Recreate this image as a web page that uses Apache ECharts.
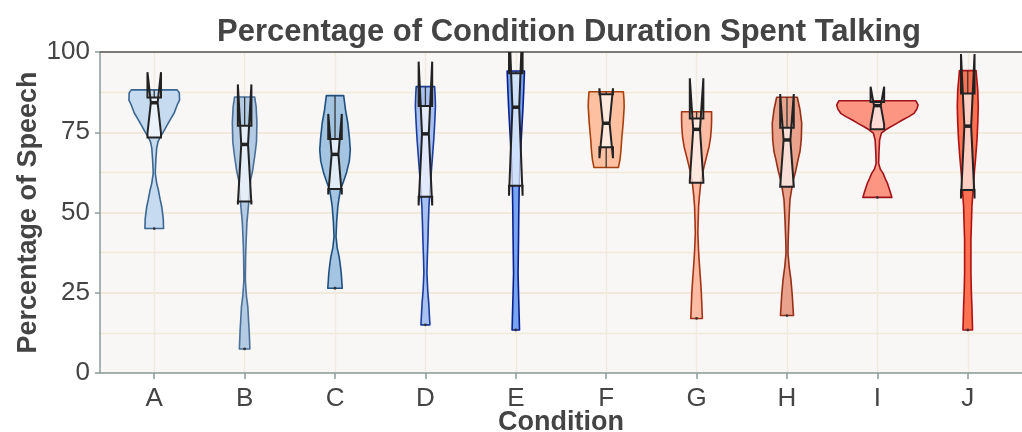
<!DOCTYPE html>
<html><head><meta charset="utf-8">
<script src="https://cdn.jsdelivr.net/npm/echarts@6/dist/echarts.min.js"></script>
<style>html,body{margin:0;padding:0;background:#fff}#c{width:1022px;height:432px}</style>
</head><body><div id="c"></div>
<script>
// ---- data ----
const categories = ['A','B','C','D','E','F','G','H','I','J'];
const yTicks = [0, 25, 50, 75, 100];
const q1          = [73.4, 53.4, 57.3, 54.9, 58.3, 70.3, 59.3, 58.0, 75.9, 57.0];
const median      = [84.2, 71.2, 68.1, 74.5, 82.8, 77.8, 75.9, 72.6, 83.3, 76.9];
const q3          = [85.8, 77.0, 72.9, 83.2, 93.4, 86.8, 79.3, 76.4, 84.4, 87.1];
const notchLow    = [74.7, 52.5, 55.6, 52.2, 55.2, 66.9, 60.0, 58.3, 77.4, 54.4];
const notchHigh   = [93.7, 89.9, 80.7, 97.0, 110.4, 88.7, 91.8, 86.9, 89.2, 99.4];
const whiskerLow  = [73.4, 53.4, 57.3, 54.9, 58.3, 64.0, 59.3, 58.0, 75.9, 57.0];
const whiskerHigh = [88.2, 86.0, 86.4, 89.2, 94.1, 87.6, 81.4, 85.9, 84.8, 94.2];
const outliers    = [[45.0],[7.5],[26.4],[15.0],[13.4],[],[17.0],[17.9],[54.7],[13.4]];

// violin density profiles: [value, half-width as fraction of category step]
const violinA = [[88.2,.254],[87.3,.277],[85,.280],[83.5,.254],[81,.221],[79.3,.185],[77,.138],[75.2,.103],[73.5,.066],[72,.041],[70,.027],[66,.017],[62.3,.011],[59,.028],[57,.046],[54,.066],[51.8,.083],[48,.100],[45,.103]];
const violinB = [[86,.111],[83,.127],[78,.136],[72,.131],[67.4,.111],[63,.088],[60.1,.066],[53.9,.048],[46.7,.025],[40,.015],[36.2,.011],[29,.008],[24,.020],[20.7,.035],[16,.044],[13.4,.050],[7.5,.058]];
const violinC = [[86.4,.096],[82,.116],[77.8,.142],[73,.160],[69.5,.169],[66,.158],[62.2,.125],[59.5,.092],[57,.059],[54,.042],[51.8,.031],[47,.018],[42.5,.011],[39,.024],[36.2,.046],[33.5,.059],[31,.069],[26.4,.080]];
const violinD = [[89.2,.102],[86,.108],[83,.111],[78,.103],[72.6,.092],[67,.077],[62.2,.064],[57,.051],[51.8,.039],[46,.032],[41.4,.028],[36,.021],[31.1,.017],[26,.025],[21.7,.037],[18,.044],[15,.050]];
const violinE = [[94.1,.096],[88.2,.088],[83,.080],[77.8,.070],[72,.059],[67.4,.050],[62,.042],[57,.037],[50,.033],[41.4,.030],[31,.025],[24,.031],[18,.037],[13.4,.041]];
const violinF = [[87.6,.190],[85,.197],[83,.199],[78,.188],[72.6,.171],[69,.162],[66.4,.152],[64,.135]];
const violinG = [[81.4,.166],[79,.166],[76.7,.164],[73.5,.155],[70.5,.138],[67.5,.111],[64.3,.083],[61.5,.061],[59.1,.046],[55,.031],[51.8,.022],[47,.017],[43.5,.014],[38,.022],[33.1,.033],[28,.046],[24.8,.053],[17,.064]];
const violinH = [[85.9,.114],[82,.144],[77.8,.163],[72.6,.158],[69,.144],[66.4,.122],[63,.097],[60.1,.070],[57,.050],[53.9,.033],[49,.024],[45.6,.019],[41,.013],[37.3,.011],[33,.025],[29,.044],[24,.059],[17.9,.072]];
const violinI = [[84.8,.426],[83.5,.450],[82.2,.437],[80.9,.406],[79.8,.343],[78.8,.277],[77.7,.210],[76.7,.147],[75.7,.088],[74.7,.044],[72.6,.025],[68.4,.017],[65.3,.014],[63.5,.033],[62.2,.063],[60.5,.088],[59.1,.111],[56,.147],[54.7,.160]];
const violinJ = [[94.2,.092],[88,.111],[83,.116],[78,.111],[72.6,.102],[67,.087],[62.2,.072],[57,.059],[51.8,.046],[46,.040],[41.4,.035],[31,.035],[25,.040],[20.7,.046],[13.4,.053]];
const violins = [violinA,violinB,violinC,violinD,violinE,violinF,violinG,violinH,violinI,violinJ];

// ---- styles ----
const violinFill   = ['#c6dbef','#b4cbe4','#a3c5e2','#a9c1f0','#77a5f1','#fdc1a2','#fcbca3','#e9a38c','#fc9683','#fb7253'];
const violinStroke = ['#3b6691','#4a6f99','#1f4f7f','#1a3c9e','#0a1f8f','#a8400c','#a53315','#952f18','#a0121a','#b01010'];
const BOX_HW = 0.075, NOTCH = 0.5;
const FONT = '"Liberation Sans", Arial, sans-serif';

function renderItem(params, api) {
  const i = api.value(0);
  const prof = violins[i];
  const vp = [];
  for (const [v, w] of prof) vp.push(api.coord([i + w, v]));
  for (let k = prof.length - 1; k >= 0; k--) vp.push(api.coord([i - prof[k][1], prof[k][0]]));
  const children = [];
  children.push({type:'polygon', shape:{points:vp}, style:{fill:violinFill[i], stroke:violinStroke[i], lineWidth:1.6, lineJoin:'round'}});
  const c = (x, y) => api.coord([x, y]);
  if (whiskerHigh[i] > q3[i]) {
    const a = c(i, q3[i]), b = c(i, whiskerHigh[i]);
    children.push({type:'line', shape:{x1:a[0],y1:a[1],x2:b[0],y2:b[1]}, style:{stroke:'#333', lineWidth:1.3}});
  }
  if (whiskerLow[i] < q1[i]) {
    const a = c(i, q1[i]), b = c(i, whiskerLow[i]);
    children.push({type:'line', shape:{x1:a[0],y1:a[1],x2:b[0],y2:b[1]}, style:{stroke:'#333', lineWidth:1.3}});
  }
  const bw = BOX_HW, nw = BOX_HW * NOTCH;
  const bp = [
    c(i-bw, q1[i]), c(i-bw, notchLow[i]), c(i-bw+nw, median[i]), c(i-bw, notchHigh[i]), c(i-bw, q3[i]),
    c(i+bw, q3[i]), c(i+bw, notchHigh[i]), c(i+bw-nw, median[i]), c(i+bw, notchLow[i]), c(i+bw, q1[i])
  ];
  children.push({type:'polygon', shape:{points:bp}, style:{fill:'rgba(255,255,255,0.65)', stroke:'#222', lineWidth:2}});
  const m1 = c(i-bw+nw, median[i]), m2 = c(i+bw-nw, median[i]);
  children.push({type:'line', shape:{x1:m1[0],y1:m1[1],x2:m2[0],y2:m2[1]}, style:{stroke:'#222', lineWidth:3.5}});
  for (const o of outliers[i]) {
    const p = c(i, o);
    children.push({type:'circle', shape:{cx:p[0], cy:p[1], r:1.4}, style:{fill:'#333'}});
  }
  return {type:'group', children};
}

const chart = echarts.init(document.getElementById('c'), null, {renderer:'canvas'});
const idx = categories.map((_, k) => k);
chart.setOption({
  animation: false,
  backgroundColor: '#ffffff',
  title: {
    text: 'Percentage of Condition Duration Spent Talking',
    left: 564, top: 12, textAlign: 'center',
    textStyle: {fontFamily: FONT, fontSize: 31, fontWeight: 'bold', color: '#444'}
  },
  grid: {left: 100, right: 0, top: 52, bottom: 59, show: true, backgroundColor: '#f8f7f5', borderWidth: 0, outerBoundsMode: 'none', containLabel: false},
  xAxis: [{
    type: 'value', min: -0.6, max: 9.6,
    axisLine: {show: true, onZero: false, lineStyle: {color: '#8c9a9a', width: 1.5}},
    axisTick: {show: true, customValues: idx, length: 6, lineStyle: {color: '#8c9a9a', width: 1.5}},
    axisLabel: {customValues: idx, formatter: v => categories[Math.round(v)], fontFamily: FONT, fontSize: 26, color: '#444', margin: 13},
    splitLine: {show: true, lineStyle: {color: '#f0eadf', width: 1.3}},
    name: 'Condition', nameLocation: 'middle', nameGap: 36, nameMoveOverlap: false,
    nameTextStyle: {fontFamily: FONT, fontSize: 27, fontWeight: 'bold', color: '#444'}
  }, {
    type: 'value', min: -0.6, max: 9.6, position: 'top',
    axisLine: {show: true, onZero: false, lineStyle: {color: '#555', width: 1.5}},
    axisTick: {show: false}, axisLabel: {show: false}, splitLine: {show: false}
  }],
  yAxis: {
    type: 'value', min: yTicks[0], max: yTicks[yTicks.length-1], interval: yTicks[1] - yTicks[0],
    axisLine: {show: true, onZero: false, lineStyle: {color: '#8c9a9a', width: 1.5}},
    axisTick: {show: true, length: 5, lineStyle: {color: '#8c9a9a', width: 1.5}},
    axisLabel: {fontFamily: FONT, fontSize: 26, color: '#444', margin: 10},
    splitLine: {show: true, lineStyle: {color: '#efe6d3', width: 1.5}},
    minorTick: {show: false, splitNumber: 2},
    minorSplitLine: {show: true, lineStyle: {color: '#f1eadc', width: 1.3}},
    name: 'Percentage of Speech', nameLocation: 'middle', nameGap: 58, nameMoveOverlap: false,
    nameTextStyle: {fontFamily: FONT, fontSize: 27, fontWeight: 'bold', color: '#444'}
  },
  series: [{
    type: 'custom', clip: true, xAxisIndex: 0,
    renderItem: renderItem,
    data: idx.map(k => [k]),
    encode: {x: 0}
  }]
});
</script></body></html>
